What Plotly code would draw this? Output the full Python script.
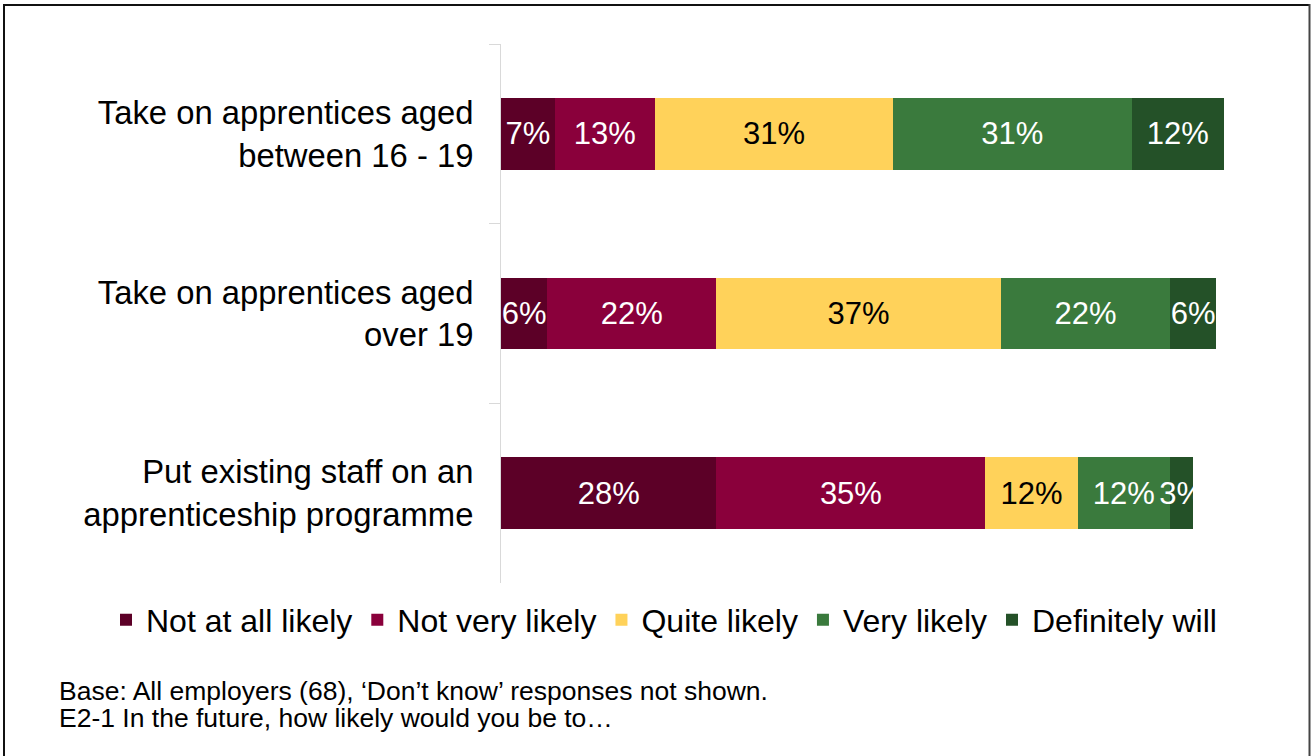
import plotly.graph_objects as go

# Survey statements (top to bottom) and response shares in percent
statements = [
    "Take on apprentices aged<br>between 16 - 19",
    "Take on apprentices aged<br>over 19",
    "Put existing staff on an<br>apprenticeship programme",
]
responses = ["Not at all likely", "Not very likely", "Quite likely", "Very likely", "Definitely will"]
not_at_all_likely = [7, 6, 28]
not_very_likely = [13, 22, 35]
quite_likely = [31, 37, 12]
very_likely = [31, 22, 12]
definitely_will = [12, 6, 3]

series_values = [not_at_all_likely, not_very_likely, quite_likely, very_likely, definitely_will]
colors = ["#5c0027", "#8a003b", "#ffd25a", "#3a7a3d", "#245128"]
text_colors = ["white", "white", "black", "white", "white"]

footnotes = [
    "Base: All employers (68), \u2018Don\u2019t know\u2019 responses not shown.",
    "E2-1 In the future, how likely would you be to\u2026",
]

FONT = "Liberation Sans, Arial, sans-serif"
W, H = 1311, 756
L, R, T, B = 501, 41, 44, 173
pw, ph = W - L - R, H - T - B


def px_x(x):
    return (x - L) / pw


def px_y(y):
    return (H - B - y) / ph


fig = go.Figure()
for name, vals, col, tcol in zip(responses, series_values, colors, text_colors):
    fig.add_trace(go.Bar(
        y=statements,
        x=vals,
        name=name,
        orientation="h",
        marker=dict(color=col, line=dict(width=0)),
        text=[f"{v}%" for v in vals],
        textposition="inside",
        insidetextanchor="middle",
        textangle=0,
        textfont=dict(family=FONT, size=31, color=tcol),
        constraintext="none",
        width=0.4,
        hoverinfo="skip",
    ))

fig.update_layout(
    width=W,
    height=H,
    margin=dict(l=L, r=R, t=T, b=B, autoexpand=False),
    barmode="stack",
    bargap=0.6,
    paper_bgcolor="white",
    plot_bgcolor="white",
    font=dict(family=FONT, color="black"),
    uniformtext=dict(mode="show", minsize=31),
    showlegend=True,
    legend=dict(
        orientation="h",
        x=px_x(106),
        xanchor="left",
        y=px_y(620),
        yanchor="middle",
        font=dict(family=FONT, size=32, color="black"),
        traceorder="normal",
        itemwidth=30,
        bgcolor="rgba(0,0,0,0)",
    ),
    xaxis=dict(
        range=[0, 100],
        visible=False,
        fixedrange=True,
    ),
    yaxis=dict(
        type="category",
        autorange="reversed",
        showline=True,
        linecolor="#d9d9d9",
        linewidth=1,
        ticks="outside",
        tickson="boundaries",
        ticklen=11,
        tickcolor="#d9d9d9",
        ticklabelstandoff=20,
        tickfont=dict(family=FONT, size=32.8, color="black"),
        showgrid=False,
        zeroline=False,
    ),
)

for i, line in enumerate(footnotes):
    fig.add_annotation(
        text=line,
        xref="paper",
        yref="paper",
        x=px_x(57),
        y=px_y(691 + 27 * i),
        xanchor="left",
        yanchor="middle",
        showarrow=False,
        font=dict(family=FONT, size=26.5, color="black"),
    )

# Outer frame (left, top, right edges)
frame = [
    (4, 4, 4, H, "#111111"),
    (3, 5, 1310, 5, "#111111"),
    (1309.5, 4, 1309.5, H, "#444444"),
]
for x0, y0, x1, y1, c in frame:
    fig.add_shape(
        type="line",
        xref="paper",
        yref="paper",
        x0=px_x(x0),
        y0=px_y(y0),
        x1=px_x(x1),
        y1=px_y(y1),
        line=dict(color=c, width=2),
    )

fig.write_html("out.html")
